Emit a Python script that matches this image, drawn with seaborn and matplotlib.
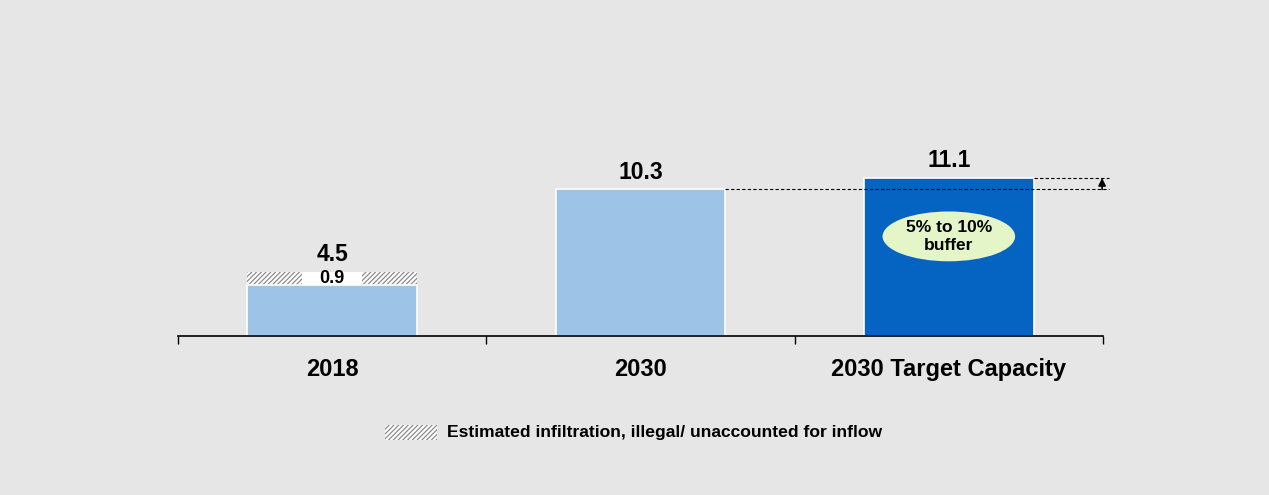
import numpy as np
import pandas as pd
import matplotlib
matplotlib.use('Agg')
import matplotlib.pyplot as plt
import seaborn as sns
from matplotlib.patches import Rectangle, Ellipse

# chart data
CATEGORIES = ['2018', '2030', '2030 Target Capacity']
BASE = [3.6, 10.3, 11.1]
INFILTRATION = [0.9, 0.0, 0.0]
TOTALS = [4.5, 10.3, 11.1]
LABELS = ['4.5', '10.3', '11.1']
BAR_COLORS = ['#9dc3e6', '#9dc3e6', '#0563c1']
LEGEND_TEXT = 'Estimated infiltration, illegal/ unaccounted for inflow'
BUFFER_TEXT = '5% to 10%\nbuffer'

BG = '#e6e6e6'
HATCH_GRAY = '#8c8c8c'
W = 0.55

sns.set_style('white')
plt.rcParams['font.family'] = ['Liberation Sans', 'DejaVu Sans']
plt.rcParams['text.color'] = 'black'
plt.rcParams['hatch.linewidth'] = 0.9


def build_frame() -> pd.DataFrame:
    """Table of stacked values"""
    df = pd.DataFrame({'Category': CATEGORIES, 'Base': BASE,
                       'Infiltration': INFILTRATION})
    df['Total'] = df['Base'] + df['Infiltration']
    return df


def draw() -> None:
    df = build_frame()
    fig = plt.figure(figsize=(12.69, 4.95), dpi=100, facecolor=BG)
    ax = fig.add_axes([178 / 1269, 1 - 336 / 495, 925 / 1269, 296 / 495])
    ax.set_facecolor(BG)

    # hatched top layer (totals), then base bars on top
    sns.barplot(data=df, x='Category', y='Total', color='white', width=W,
                saturation=1, edgecolor=HATCH_GRAY, linewidth=0, ax=ax)
    for p in ax.patches:
        p.set_hatch('///////')
    sns.barplot(data=df, x='Category', y='Base', hue='Category',
                palette=BAR_COLORS, width=W, saturation=1, legend=False,
                edgecolor='white', linewidth=1.2, ax=ax)

    ax.set_xlim(-0.5, 2.5)
    ax.set_ylim(0, 20.8)

    # white box with infiltration value
    box_w = 0.195
    ax.add_patch(Rectangle((0 - box_w / 2, df['Base'][0]), box_w,
                           df['Infiltration'][0], facecolor='white',
                           edgecolor='none', zorder=5))
    ax.text(0, df['Base'][0] + df['Infiltration'][0] / 2,
            f"{df['Infiltration'][0]:.1f}", ha='center', va='center',
            fontsize=13, fontweight='bold', zorder=6)

    # totals above bars
    for i, (v, lab) in enumerate(zip(df['Total'], LABELS)):
        ax.annotate(lab, (i, v), xytext=(0, 4), textcoords='offset points',
                    ha='center', va='bottom', fontsize=16.5, fontweight='bold')

    # dashed reference lines and buffer arrow
    ax.hlines(TOTALS[1], 1 + W / 2, 2.52, colors='black', linestyles=(0, (3, 2)),
              linewidth=0.8, clip_on=False)
    ax.hlines(TOTALS[2], 2 + W / 2, 2.52, colors='black', linestyles=(0, (3, 2)),
              linewidth=0.8, clip_on=False)
    ax.annotate('', xy=(2.497, TOTALS[2]), xytext=(2.497, TOTALS[1]),
                arrowprops=dict(arrowstyle='-|>', color='black', lw=1.2,
                                mutation_scale=11, shrinkA=0, shrinkB=0),
                annotation_clip=False)

    # buffer ellipse
    ax.add_patch(Ellipse((2, 7.0), 0.43, 3.5, facecolor='#e4f5c8',
                         edgecolor='none', zorder=5))
    ax.text(2, 7.0, BUFFER_TEXT, ha='center', va='center', fontsize=12.5,
            fontweight='bold', linespacing=1.25, zorder=6)

    # axes styling
    for s in ['top', 'right', 'left']:
        ax.spines[s].set_visible(False)
    ax.spines['bottom'].set_color('black')
    ax.spines['bottom'].set_linewidth(1.2)
    ax.set_yticks([])
    ax.set_xlabel('')
    ax.set_ylabel('')
    ax.set_xticks(range(len(CATEGORIES)))
    ax.set_xticklabels(CATEGORIES, fontsize=17, fontweight='bold')
    ax.tick_params(axis='x', which='major', length=0, pad=16,
                   labelcolor='black')
    ax.set_xticks([-0.5, 0.5, 1.5, 2.5], minor=True)
    ax.tick_params(axis='x', which='minor', bottom=True, length=6, width=1,
                   color='black', direction='out')

    # legend row
    fig.patches.append(Rectangle((385 / 1269, 1 - 440 / 495), 52 / 1269,
                                 15 / 495, transform=fig.transFigure,
                                 facecolor='white', edgecolor=HATCH_GRAY,
                                 linewidth=0, hatch='///////'))
    fig.text(447 / 1269, 1 - 433 / 495, LEGEND_TEXT, ha='left', va='center',
             fontsize=12.6, fontweight='bold')

    fig.savefig('out.png', dpi=100, facecolor=BG)


if __name__ == '__main__':
    draw()
